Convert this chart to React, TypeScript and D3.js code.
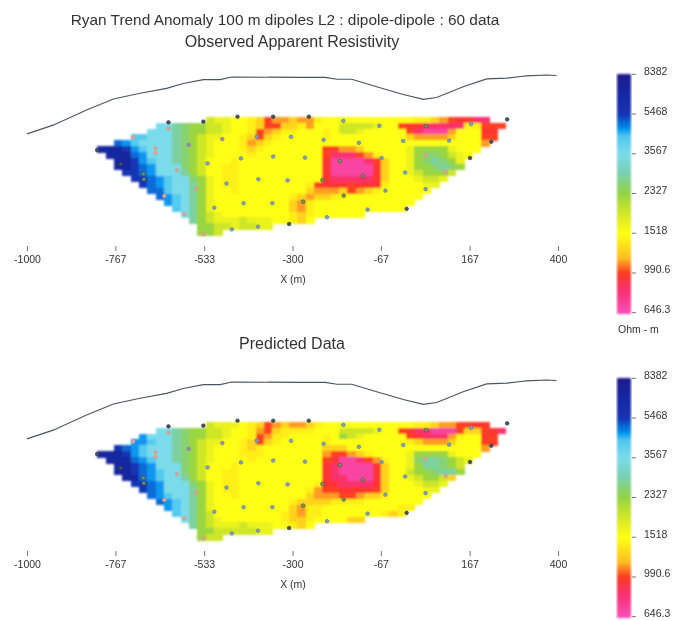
import React, { useRef, useEffect } from 'react';
import * as d3 from 'd3';

// resistivity class (ohm-m) for each letter used in the section rows
const classLetters = 'abcdefghijklmnopqrs';
const classValues = [700, 830, 950, 1000, 1120, 1260, 1420, 1518, 1680, 1900, 2280, 2550, 2800, 3567, 4200, 4650, 5000, 5468, 7000];

// one string per pseudo-depth row, one letter per 22 m column, '.' = no data
const observedRows = [
  '.............jiihhgfdeefe|eghhhhhhhhhhhggfedccbb',
  '.......nnmlkkjjihhgfddffg|ehhhjjjjihhdccbbbbbggddd',
  '......nnnmlkkjjihhgdefggh|hhghjjihhhhhdbaaaehhhcc',
  '....oonnnmlkjiihhgfdfghhh|hhghhhhhhhhhfeeeefhhhdd',
  '..qponnnnmlkjihhhgefghhhh|hhhhhhhhhhhhhhhhhhhhhe',
  'sssrponnnmlkjihhhgfghhhhh|hhddeefhhhhhikkkkihhh',
  '.sssqpnnnmlkjihhhhghhhhhh|hhdbbbdeghhhikllkjih',
  '..ssrponnmlkjhhhghhhhhhhh|hhcaaaabdfhhiklmlki',
  '..ssrqpnnnlkjhhgghhhhhhhh|hhcaaaaacfhhikklmlk',
  '...rrqpnnnmkjhhgghhhhhhhh|hhcaaaaacfhhijkkkj',
  '....rrqponnlkihgghhhhhhhh|hhcbbbbbcfhhhijji',
  '.....rqponnmkihgghhhhhhhh|gdcccdcccghhhhii',
  '......qqonnmkihhghhhhhhhh|feeefdefghhhhhh',
  '.......qponmkihhhhhhhhhgf|effgghhhhhhhhh',
  '........ponmkihhhhhhhhhfe|ghhhhhhhhhhhh',
  '.........onmkihhhhhhhhhfe|ghhhhhhhhhhh',
  '..........nmkjihhhhhhhhgf|ghhhhhh',
  '...........mkjiiijiiihhgf|h',
  '............kkjjijjii',
  '............kkj',
];

const predictedRows = [
  '.............jiiihgfdefee|fghhhhhhhhhhhggfeeddcc',
  '.......nnmlkkjjihhgedfggg|ghhhjjjjihhdcbbaaadffdcb',
  '.....pnnnmlkkjjihhgdegghh|hhghkjihhhhhdcbbbeghhcd',
  '....pponnmlkjiihhgfdfghhh|hhghhhhhhhhhgfeeefhhhdd',
  '..rqponnnmlkjihhhgfghhhhh|hhfffhhhhhhhhhhhhhhhhe',
  'sssrponnnmlkjihhhggghhhhh|hheddefghhhhikkkkihhh',
  '.sssqponnmlkjihhhhghhhhhh|hhdcaabdeghhilmmlkji',
  '..ssrqpnnnlkjhhhghhhhhhhh|hhcbaaaacfhhikmmlkj',
  '..ssrqponnlkjhhgghhhhhhhh|hhcbaaaacfhhjkklmmk',
  '...ssqponnmkjhhgghhhhhhhh|hhcbbaaacfhhijkkjf',
  '....rrqpnnnlkihgghhhhhhhh|hgccbbbbcfhhhijji',
  '.....rqpnnnmkihgghhhhhhhh|geddccccdfhhhhii',
  '......qponnmkihhghhhhhhhh|feeeddeffghhhhh',
  '.......qponmkihhhhhhhhhgf|fffgggghhhhhhh',
  '........ponmkihhhhhhhhhfe|gghhhhhhhhhgg',
  '.........onmkjhhhhhhhhgfe|gghhhhhhhgfg',
  '..........nmkjihhhhhhhgff|ghhhhff',
  '...........mkjiiijiiihhgf|h',
  '............kkjjjjjii',
  '............kjj',
];

// electrode-derived data points: x (m), pseudo-depth (m), marker group
const pointX = [-815, -753, -720, -661, -661, -693, -692, -638, -627, -627, -605, -585, -574, -554, -535, -535, -524, -506, -485, -474, -460, -445, -436, -429, -394, -390, -391, -353, -351, -351, -313, -309, -304, -267, -272, -257, -166, -71, -218, -125, -175, -65, -221, -115, -55, -165, -209, -102, 1, 51, -3, 104, 51, 168, 113, -8, 52, 171, 224, 266];
const pointDepth = [88, 125, 55, 83, 96, 151, 165, 209, 15, 31, 141, 257, 74, 189, 13, 310, 123, 240, 59, 176, 297, 0, 110, 228, 53, 165, 290, 228, 105, 0, 168, 283, 53, 108, 224, 0, 11, 24, 61, 69, 117, 109, 167, 156, 195, 208, 265, 245, 243, 191, 147, 146, 101, 109, 63, 64, 25, 19, 66, 7];
const pointGroup = 'ddsssggsdsssps' + 'dsbbpbbdbbbbbbbdbdbbgdbbbbgbggbgbbdbbssdbbgbdd';

// surface topography
const topoX = [-1000, -931, -843, -772, -702, -632, -588, -535, -491, -460, -280, -214, -183, -144, -78, -8, 45, 80, 150, 212, 265, 317, 370, 396];
const topoElev = [3, 26, 66, 95, 110, 123, 136, 146, 146, 153, 152, 152, 147, 147, 127, 107, 94, 99, 127, 148, 150, 156, 158, 157];

const xTicks = [-1000, -767, -533, -300, -67, 167, 400];
const barValues = [8382, 5468, 3567, 2327, 1518, 990.6, 646.3];
const barLabels = ['8382', '5468', '3567', '2327', '1518', '990.6', '646.3'];

// colour bar stops
const colourStops = [8382, 5468, 4700, 4300, 3567, 2900, 2327, 1850, 1518, 1170, 990.6, 810, 646.3];
const colourRange = ['#1c1c90', '#1234b4', '#0090f0', '#50c8f0', '#7adcea', '#78d0b0', '#94d444', '#d6e824', '#ffff14', '#ffc020', '#ff3820', '#f83078', '#f850b8'];

const FONT = '"Liberation Sans", Arial, sans-serif';
const TEXT = '#333';

const colour = d3.scaleLog<string>().domain(colourStops).range(colourRange).interpolate(d3.interpolateRgb);
const x = d3.scaleLinear().domain([-1000, 400]).range([27, 558]);

const groupFill = { d: '#47525e', s: '#e8a090', g: '#7f9a50', p: '#9a88b8', b: '#7f9fc4' };
const groupStroke = { d: '#333c48', s: '#d09a90', g: '#46564a', p: '#8a80a0', b: '#5f7f9f' };

const COL_START = -815;
const COL_W = 22;
const ROW_H = 15.63;

const Section = ({ rows, top, pointShift, tickY }) => {
  const axisRef = useRef(null);
  const depth = d3.scaleLinear().domain([0, 320]).range([top, top + 320 / 2.6365]);
  const elev = d3.scaleLinear().domain([0, 160]).range([135 + (top - 116.7), 135 + (top - 116.7) - 160 / 2.6365]);

  useEffect(() => {
    const g = d3.select(axisRef.current);
    g.selectAll('*').remove();
    g.call(d3.axisBottom(x).tickValues(xTicks).tickSize(5).tickPadding(5).tickFormat(d => String(d)));
    g.select('.domain').remove();
    g.selectAll('line').attr('stroke', '#777');
    g.selectAll('text').attr('font-family', FONT).attr('font-size', 10.5).attr('fill', TEXT);
  }, []);

  const cells = [];
  rows.forEach((row, r) => {
    row.replace('|', '').split('').forEach((ch, c) => {
      const i = classLetters.indexOf(ch);
      if (i >= 0) cells.push({ r, c, value: classValues[i] });
    });
  });

  const line = d3.line<number>()
    .x(d => x(topoX[d]))
    .y(d => elev(topoElev[d]));

  return (
    <g>
      <path d={line(d3.range(topoX.length))} fill="none" stroke="#4a5560" strokeWidth={1.1} />
      <g filter="url(#soften)" shapeRendering="crispEdges">
        {cells.map(d => (
          <rect
            key={`${d.r}-${d.c}`}
            x={x(COL_START + d.c * COL_W)}
            y={depth(d.r * ROW_H)}
            width={x(COL_W) - x(0) + 0.4}
            height={depth(ROW_H) - depth(0) + 0.4}
            fill={colour(d.value)}
          />
        ))}
      </g>
      <g>
        {pointX.map((px, i) => (
          <circle
            key={i}
            cx={x(px)}
            cy={depth(pointDepth[i]) + pointShift}
            r={1.8}
            fill={groupFill[pointGroup[i]]}
            stroke={groupStroke[pointGroup[i]]}
            strokeWidth={0.7}
          />
        ))}
      </g>
      <g ref={axisRef} transform={`translate(0,${tickY})`} />
      <text x={293} y={tickY + 37} textAnchor="middle" fontFamily={FONT} fontSize={10.5} fill={TEXT}>X (m)</text>
    </g>
  );
};

const ColourBar = ({ top }) => {
  const y = d3.scaleLog().domain([8382, 646.3]).range([top, top + 238.4]);
  const strips = d3.range(0, 239);
  return (
    <g>
      <g filter="url(#soften)" shapeRendering="crispEdges">
        {strips.map(s => (
          <rect key={s} x={617} y={top + s} width={14} height={1.4} fill={colour(y.invert(top + Math.min(s, 238)))} />
        ))}
      </g>
      {barValues.map((v, i) => (
        <g key={v}>
          <line x1={632} x2={636} y1={y(v)} y2={y(v)} stroke="#777" />
          <text x={644} y={y(v) + 0.5} fontFamily={FONT} fontSize={10.5} fill={TEXT}>{barLabels[i]}</text>
        </g>
      ))}
    </g>
  );
};

export default function App() {
  return (
    <svg width={674} height={621} style={{ position: 'absolute', left: 0, top: 0, display: 'block', background: '#fff' }}>
      <defs>
        <filter id="soften" x="-5%" y="-5%" width="110%" height="110%">
          <feGaussianBlur stdDeviation="0.8" />
        </filter>
        <filter id="scan" x="0" y="0" width="100%" height="100%">
          <feGaussianBlur stdDeviation="0.3" />
        </filter>
      </defs>
      <g filter="url(#scan)">
        <text x={285} y={25} textAnchor="middle" fontFamily={FONT} fontSize={15.4} fill={TEXT}>Ryan Trend Anomaly 100 m dipoles L2 : dipole-dipole : 60 data</text>
        <text x={292} y={47} textAnchor="middle" fontFamily={FONT} fontSize={16} fill={TEXT}>Observed Apparent Resistivity</text>
        <text x={292} y={349} textAnchor="middle" fontFamily={FONT} fontSize={16} fill={TEXT}>Predicted Data</text>

        <Section rows={observedRows} top={116.7} pointShift={0} tickY={246} />
        <Section rows={predictedRows} top={421.7} pointShift={-1} tickY={551} />

        <ColourBar top={74.3} />
        <ColourBar top={378.3} />
        <text x={618} y={333} fontFamily={FONT} fontSize={10.5} fill={TEXT}>Ohm - m</text>
      </g>
    </svg>
  );
}
